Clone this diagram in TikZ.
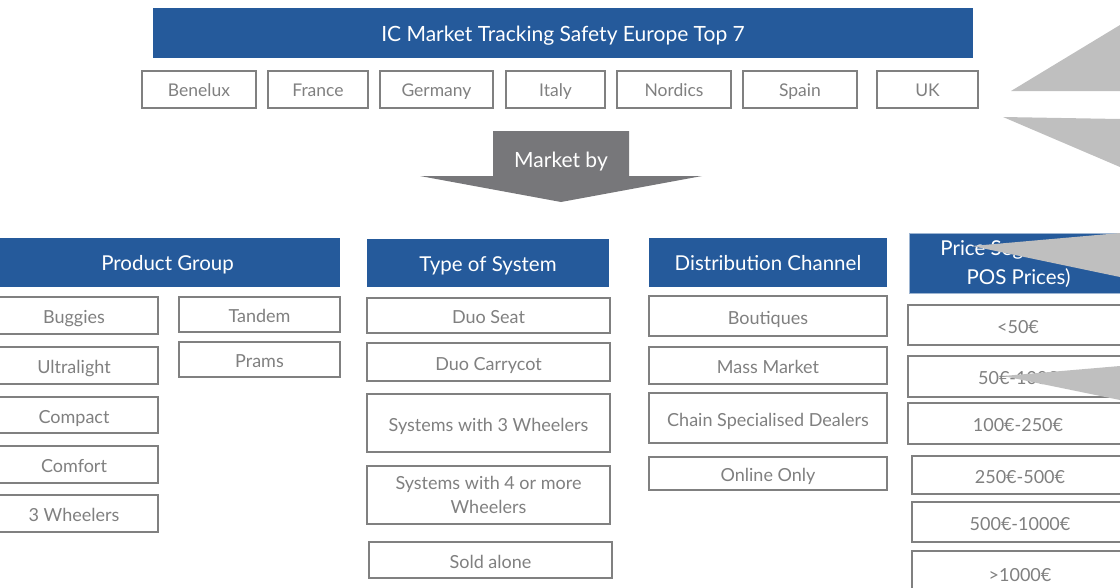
\documentclass[tikz,border=0pt]{standalone}
\usepackage{fontspec}
\setmainfont{Lato}
\definecolor{hdrblue}{HTML}{255A9B}
\definecolor{boxgrey}{HTML}{808080}
\definecolor{wedgegrey}{HTML}{BFBFBF}
\definecolor{arrowgrey}{HTML}{77777A}
\tikzset{
  hdr/.style={fill=hdrblue, text=white, inner sep=0pt, align=center, text height=17.8pt, text depth=0pt, font=\fontsize{20.5}{29}\selectfont},
  cell/.style={draw=boxgrey, line width=1.5pt, fill=white, text=boxgrey, inner sep=0pt, align=center, text height=16pt, text depth=0pt, font=\fontsize{18}{24}\selectfont},
  twoline/.style={text height={}, text depth={}},
  wedge/.style={fill=wedgegrey},
}
\begin{document}
\begin{tikzpicture}[x=1pt, y=-1pt]
\useasboundingbox (0,0) rectangle (1120,587);
\clip (0,0) rectangle (1120,587);

% title and countries
\node[hdr, font=\fontsize{21}{26}\selectfont, text height=18pt, minimum width=820, minimum height=50] (title) at (563,32.5) {IC Market Tracking Safety Europe Top 7};
\foreach \n/\cx/\w in {Benelux/199/114, France/318/100, Germany/436.5/113, Italy/555.5/99, Nordics/674/114, Spain/800/114, UK/927.5/101}{
	\node[cell, font=\fontsize{17.5}{22}\selectfont, text height=13.5pt, minimum width=\w, minimum height=37] (c-\n) at (\cx,89.5) {\n};
}

% market by arrow
\fill[arrowgrey] (493,131) -- (629,131) -- (629,176) -- (702,176) -- (561,202) -- (420,176) -- (493,176) -- cycle;
\node[text=white, font=\fontsize{21}{24}\selectfont] (marketby) at (561,162) {Market by};

% product group
\node[hdr, minimum width=345, minimum height=49] (pg) at (167.5,262) {Product Group};
\foreach \n/\cy/\h/\t in {buggies/315.5/37/Buggies, ultralight/365.5/37/Ultralight, compact/415/36/Compact, comfort/464.5/37/Comfort, wheels3/513.5/37/3 Wheelers}{
	\node[cell, minimum width=168, minimum height=\h] (pg-\n) at (74,\cy) {\t};
}
\node[cell, minimum width=161, minimum height=35] (pg-tandem) at (259.5,314.5) {Tandem};
\node[cell, minimum width=161, minimum height=35] (pg-prams) at (259.5,359.5) {Prams};

% type of system
\node[hdr, minimum width=242, minimum height=48] (ts) at (488,262.5) {Type of System};
\foreach \n/\cy/\h/\t in {duoseat/315.5/35/Duo Seat, duocot/362/38/Duo Carrycot, sys3/423/58/Systems with 3 Wheelers}{
	\node[cell, minimum width=243, minimum height=\h] (ts-\n) at (488.5,\cy) {\t};
}
\node[cell, twoline, minimum width=243, minimum height=58] (ts-sys4) at (488.5,495) {Systems with 4 or more\\Wheelers};
\node[cell, minimum width=243, minimum height=36] (ts-alone) at (490.5,560) {Sold alone};

% distribution channel
\node[hdr, minimum width=238, minimum height=49] (dc) at (768,262) {Distribution Channel};
\foreach \n/\cy/\h/\t in {boutiques/316/40/Boutiques, mass/365.5/37/Mass Market, chain/418/50/Chain Specialised Dealers, online/473.5/33/Online Only}{
	\node[cell, minimum width=238, minimum height=\h] (dc-\n) at (768,\cy) {\t};
}

% price segment
\node[hdr, twoline, draw=hdrblue!45!white, line width=1pt, minimum width=219, minimum height=60] (ps) at (1018.5,263.5) {Price Segment (in\\POS Prices)};
\foreach \n/\cy/\h/\t in {p1/325/40/<50€, p2/376.5/41/50€-100€, p3/423.5/41/100€-250€}{
	\node[cell, minimum width=220, minimum height=\h] (ps-\n) at (1018,\cy) {\t};
}
\foreach \n/\cy/\h/\t in {p4/475/38/250€-500€, p5/522/40/500€-1000€, p6/573/44/>1000€}{
	\node[cell, minimum width=216, minimum height=\h] (ps-\n) at (1020,\cy) {\t};
}

% callout wedges
\fill[wedge] (1011,91) -- (1120,25) -- (1120,91) -- cycle;
\fill[wedge] (1003,117) -- (1120,119) -- (1120,167) -- cycle;
\fill[wedge] (972,246) -- (1120,233) -- (1120,277) -- cycle;
\fill[wedge] (1003,376) -- (1120,366) -- (1120,400) -- cycle;
\end{tikzpicture}
\end{document}
